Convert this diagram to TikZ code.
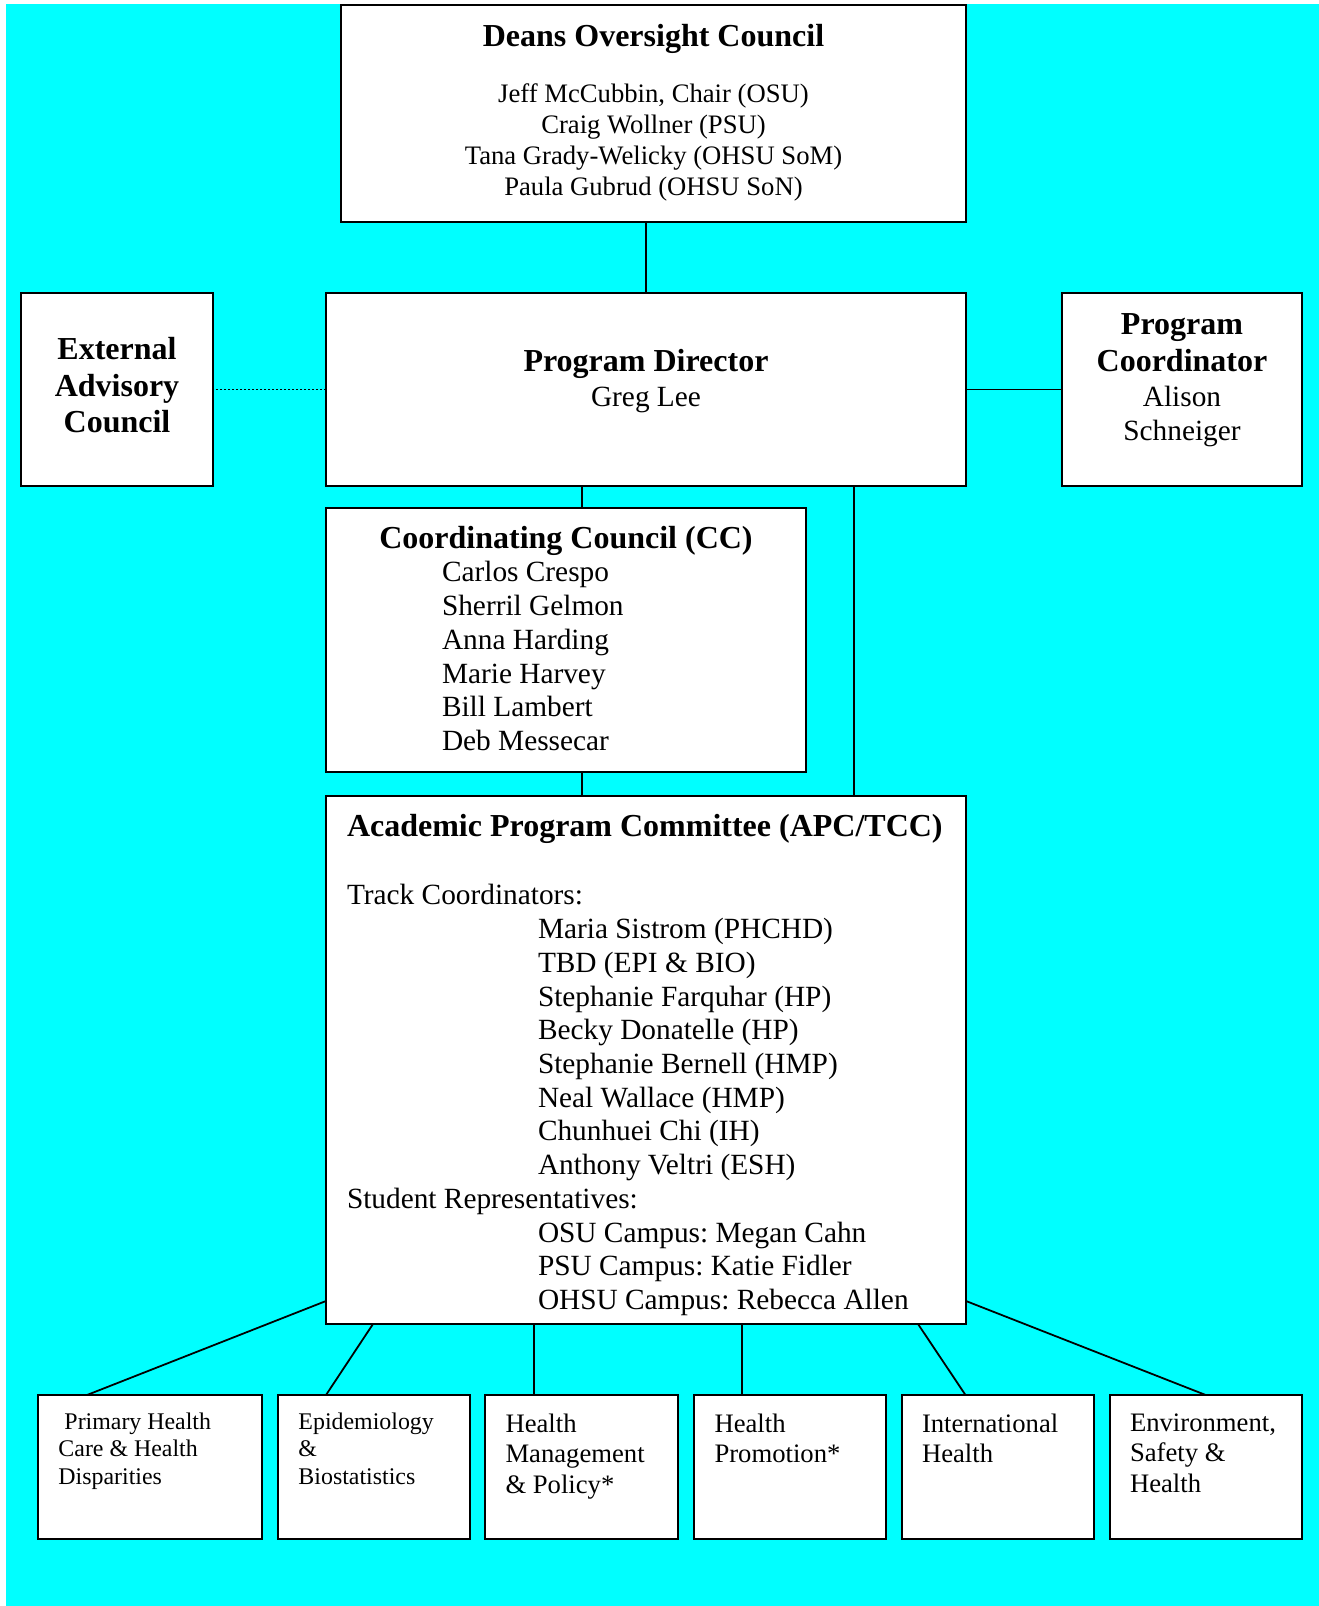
\documentclass[tikz,border=0pt]{standalone}
\usepackage{fontspec}
\setmainfont{Liberation Serif}
\usetikzlibrary{calc}
\definecolor{bgcyan}{RGB}{0,255,255}
\frenchspacing
\newlength\unitpx
\setlength\unitpx{0.45pt}
\newcommand\boxtext[3]{\parbox[c][#2\unitpx][t]{#1\unitpx}{#3}}
\newcommand\ttlfont{\fontsize{14.4pt}{16.56pt}\selectfont\bfseries}
\newcommand\namefont{\fontsize{13.2pt}{15.17pt}\selectfont}
\newcommand\deanfont{\fontsize{12pt}{13.95pt}\selectfont}
\newcommand\leaffont{\fontsize{12pt}{13.72pt}\selectfont}
\newcommand\smallleaf{\fontsize{10.75pt}{12.45pt}\selectfont}
\tikzset{
  orgbox/.style={draw, fill=white, line width=0.9pt, inner sep=0pt, outer sep=0pt, anchor=north west},
  tie/.style={line width=0.8pt},
}
\begin{document}
\begin{tikzpicture}[x=0.45pt,y=-0.45pt]
    \useasboundingbox (0,0) rectangle (1319,1606);
    \fill[white] (0,0) rectangle (1319,1606);
    \fill[bgcyan] (6,4) rectangle (1319,1606);
    % upper boxes
    \node[orgbox] (dean) at (341,5) {\boxtext{625}{217}{\centering\vspace*{19\unitpx}%
        {\ttlfont Deans Oversight Council}\\[25\unitpx]
        \deanfont Jeff McCubbin, Chair (OSU)\\ Craig Wollner (PSU)\\ Tana Grady-Welicky (OHSU SoM)\\ Paula Gubrud (OHSU SoN)}};
    \node[orgbox] (ea) at (21,293) {\boxtext{192}{193}{\centering\vspace*{44\unitpx}%
        \ttlfont External\\ Advisory\\ Council}};
    \node[orgbox] (pd) at (326,293) {\boxtext{640}{193}{\centering\vspace*{56\unitpx}%
        {\ttlfont Program Director}\\[2\unitpx] \namefont Greg Lee}};
    \node[orgbox] (pc) at (1062,293) {\boxtext{240}{193}{\centering\vspace*{21\unitpx}%
        {\ttlfont Program\\ Coordinator\par}\vspace{1\unitpx}\namefont Alison\\ Schneiger}};
    \node[orgbox] (cc) at (326,508) {\boxtext{480}{264}{\vspace*{18\unitpx}%
        {\centering\ttlfont Coordinating Council (CC)\par}\namefont
        \hspace*{116\unitpx}Carlos Crespo\\ \hspace*{116\unitpx}Sherril Gelmon\\
        \hspace*{116\unitpx}Anna Harding\\ \hspace*{116\unitpx}Marie Harvey\\
        \hspace*{116\unitpx}Bill Lambert\\ \hspace*{116\unitpx}Deb Messecar}};
    \node[orgbox] (apc) at (326,796) {\boxtext{640}{528}{\leftskip=21\unitpx\vspace*{18\unitpx}%
        {\ttlfont Academic Program Committee (APC/TCC)\par}\vspace{35\unitpx}\namefont
        Track Coordinators:\\
        \hspace*{191\unitpx}Maria Sistrom (PHCHD)\\ \hspace*{191\unitpx}TBD (EPI \& BIO)\\
        \hspace*{191\unitpx}Stephanie Farquhar (HP)\\ \hspace*{191\unitpx}Becky Donatelle (HP)\\
        \hspace*{191\unitpx}Stephanie Bernell (HMP)\\ \hspace*{191\unitpx}Neal Wallace (HMP)\\
        \hspace*{191\unitpx}Chunhuei Chi (IH)\\ \hspace*{191\unitpx}Anthony Veltri (ESH)\\
        Student Representatives:\\
        \hspace*{191\unitpx}OSU Campus: Megan Cahn\\ \hspace*{191\unitpx}PSU Campus: Katie Fidler\\
        \hspace*{191\unitpx}OHSU Campus: Rebecca Allen}};
    % tracks
    \node[orgbox] (phc) at (38,1395) {\boxtext{224}{144}{\leftskip=20.5\unitpx\vspace*{17.5\unitpx}%
        \smallleaf\hspace*{0.25em}Primary Health\\ Care \& Health\\ Disparities}};
    \node[orgbox] (epi) at (278,1395) {\boxtext{192}{144}{\leftskip=20.5\unitpx\vspace*{17.5\unitpx}%
        \smallleaf Epidemiology\\ \&\\ Biostatistics}};
    \node[orgbox] (hmp) at (485,1395) {\boxtext{193}{144}{\leftskip=20.5\unitpx\vspace*{18.5\unitpx}%
        \leaffont Health\\ Management\\ \& Policy*}};
    \node[orgbox] (hp) at (694,1395) {\boxtext{192}{144}{\leftskip=20.5\unitpx\vspace*{18.5\unitpx}%
        \leaffont Health\\ Promotion*}};
    \node[orgbox] (ih) at (901.5,1395) {\boxtext{192.5}{144}{\leftskip=20.5\unitpx\vspace*{18.5\unitpx}%
        \leaffont International\\ Health}};
    \node[orgbox] (esh) at (1109.5,1395) {\boxtext{192.5}{144}{\leftskip=20.5\unitpx\vspace*{18.5\unitpx}%
        \leaffont Environment,\\ Safety \&\\ Health}};
    % connectors
    \coordinate (ccx) at ($(cc.north west)+(256,0)$);
    \coordinate (apcx) at ($(pd.south west)+(528,0)$);
    \coordinate (hmpx) at ($(hmp.north west)+(49,0)$);
    \coordinate (hpx) at ($(hp.north west)+(48,0)$);
    \draw[tie] (pd.north) -- (pd.north |- dean.south);
    \draw[tie,densely dotted] (pd.west) -- (ea.east);
    \draw[tie] (pd.east) -- (pc.west);
    \draw[tie] (ccx |- pd.south) -- (ccx);
    \draw[tie] (ccx |- cc.south) -- (ccx |- apc.north);
    \draw[tie] (apcx) -- (apcx |- apc.north);
    \draw[tie] ($(apc.south west)+(0,-23)$) -- ($(phc.north west)+(49,0)$);
    \draw[tie] ($(apc.south west)+(47,0)$) -- ($(epi.north west)+(48,0)$);
    \draw[tie] (hmpx) -- (hmpx |- apc.south);
    \draw[tie] (hpx) -- (hpx |- apc.south);
    \draw[tie] ($(apc.south east)+(-48,0)$) -- ($(ih.north west)+(64,0)$);
    \draw[tie] ($(apc.south east)+(0,-23)$) -- (esh.north);
\end{tikzpicture}
\end{document}
